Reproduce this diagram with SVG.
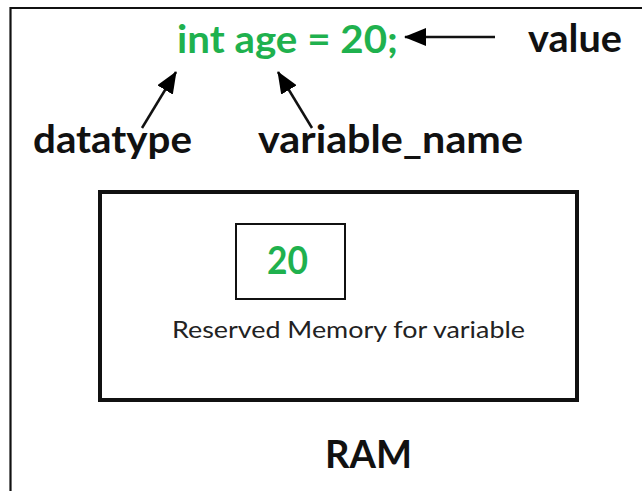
<svg xmlns="http://www.w3.org/2000/svg" width="642" height="491" viewBox="0 0 642 491">
  <defs>
    <marker id="ah" viewBox="0 0 22 18" refX="21" refY="9" markerWidth="22" markerHeight="18" markerUnits="userSpaceOnUse" orient="auto">
      <path d="M0,0 L22,9 L0,18 z" fill="#000"/>
    </marker>
    <style>
      .lbl { font-family: Lato, "Liberation Sans", sans-serif; font-weight: bold; font-size: 39px; fill: #111; }
      .code { font-family: Lato, "Liberation Sans", sans-serif; font-weight: bold; font-size: 39px; fill: #1fb14e; }
      .small { font-family: Lato, "Liberation Sans", sans-serif; font-size: 23px; fill: #222; }
      .conn line { stroke: #111; stroke-width: 2.5; marker-end: url(#ah); }
    </style>
  </defs>
  <rect width="642" height="491" fill="#fff"/>
  <path d="M10.5,491 V8 H642" fill="none" stroke="#111" stroke-width="2.2"/>

  <g id="code">
    <text class="code" x="177" y="53" textLength="221" lengthAdjust="spacingAndGlyphs">int age = 20;</text>
  </g>
  <g id="value">
    <text class="lbl" x="528" y="52" textLength="94" lengthAdjust="spacingAndGlyphs">value</text>
  </g>
  <g id="datatype">
    <text class="lbl" x="33" y="153" textLength="159" lengthAdjust="spacingAndGlyphs">datatype</text>
  </g>
  <g id="variable_name">
    <text class="lbl" x="258" y="153" textLength="265" lengthAdjust="spacingAndGlyphs">variable_name</text>
  </g>

  <g id="ram">
    <rect x="100" y="192" width="477" height="208" fill="none" stroke="#111" stroke-width="4"/>
    <text class="lbl" x="325" y="468" font-size="39" textLength="87" lengthAdjust="spacingAndGlyphs">RAM</text>
  </g>
  <g id="memory">
    <rect x="236" y="224" width="109" height="75" fill="none" stroke="#111" stroke-width="2"/>
    <text class="code" x="267" y="274" font-size="35" textLength="41" lengthAdjust="spacingAndGlyphs">20</text>
    <text class="small" x="172" y="338" textLength="353" lengthAdjust="spacingAndGlyphs">Reserved Memory for variable</text>
  </g>

  <g class="conn" id="connectors">
    <line x1="495" y1="37" x2="405" y2="37"/>
    <line x1="142" y1="128" x2="176" y2="72"/>
    <line x1="312" y1="128" x2="278" y2="72"/>
  </g>
</svg>
